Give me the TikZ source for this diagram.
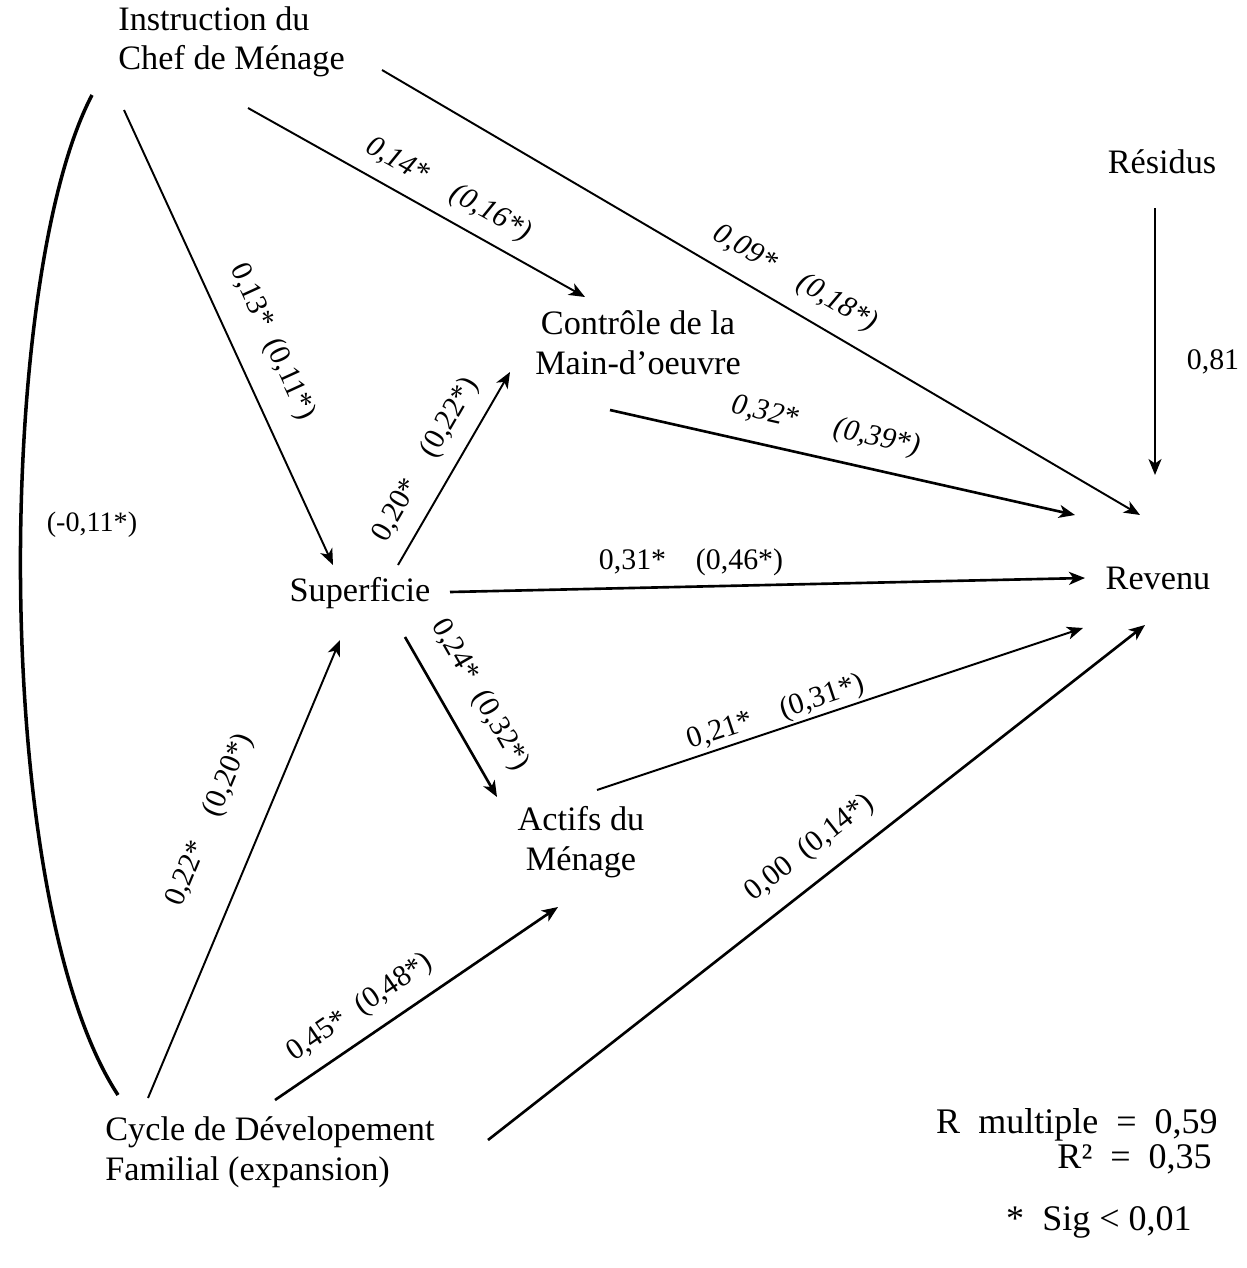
\documentclass[tikz,border=0pt]{standalone}
\usepackage{fontspec}
\setmainfont{Liberation Serif}
\usetikzlibrary{arrows.meta}
\begin{document}
\begin{tikzpicture}[x=0.02cm,y=-0.02cm,
  var/.style={font=\fontsize{19.5}{22.5}\selectfont, inner sep=0pt, align=center},
  coef/.style={font=\fontsize{17}{20}\selectfont, inner sep=0pt},
  icoef/.style={font=\fontsize{17}{20}\selectfont\itshape, inner sep=0pt},
  stat/.style={font=\fontsize{20.5}{22}\selectfont, anchor=east, inner sep=0pt},
  arr/.style={line width=1.1pt, -{Stealth[length=3.2mm,width=2.6mm,inset=0.9mm]}},
  tarr/.style={arr, line width=1.5pt},
]
\useasboundingbox (0,0) rectangle (1247,1268);

% variables
\node[var, align=left, anchor=west] (instr) at (118,42) {Instruction du\\Chef de Ménage};
\node[var] (resid) at (1162,162) {Résidus};
\node[var] (contr) at (638,343) {Contrôle de la\\Main-d’oeuvre};
\node[var] (sup) at (360,593) {Superficie};
\node[var] (rev) at (1158,578) {Revenu};
\node[var] (act) at (581,842) {Actifs du\\Ménage};
\node[var, align=left, anchor=west] (cyc) at (105,1152) {Cycle de Dévelopement\\Familial (expansion)};

% connectors
\draw[arr] ([shift={(264,28)}]instr.west) -- ([shift={(-18,-63)}]rev.center);
\draw[arr] ([shift={(130,66)}]instr.west) -- ([shift={(-53,-46)}]contr.center);
\draw[arr] ([shift={(6,68)}]instr.west) -- ([shift={(-27,-28)}]sup.center);
\draw[line width=2pt] ([shift={(-26,53)}]instr.west) .. controls (-5,280) and (-10,900) .. ([shift={(13,-57)}]cyc.west);
\draw[arr] ([shift={(-7,46)}]resid.center) -- ([shift={(-3,-103)}]rev.center);
\draw[arr] ([shift={(38,-28)}]sup.center) -- ([shift={(-128,29)}]contr.center);
\draw[tarr] ([shift={(-28,67)}]contr.center) -- ([shift={(-83,-63)}]rev.center);
\draw[tarr] ([shift={(90,-1)}]sup.center) -- ([shift={(-73,0)}]rev.center);
\draw[tarr] ([shift={(45,44)}]sup.center) -- ([shift={(-84,-45)}]act.center);
\draw[arr] ([shift={(16,-52)}]act.center) -- ([shift={(-75,50)}]rev.center);
\draw[arr] ([shift={(43,-54)}]cyc.west) -- ([shift={(-20,47)}]sup.center);
\draw[tarr] ([shift={(170,-52)}]cyc.west) -- ([shift={(-23,65)}]act.center);
\draw[tarr] ([shift={(383,-12)}]cyc.west) -- ([shift={(-13,47)}]rev.center);

% coefficients
\node[icoef, rotate=-30.4] (c1) at (795,279) {0,09*\quad (0,18*)};
\node[icoef, rotate=-29.3] (c2) at (448,190) {0,14*\quad (0,16*)};
\node[coef, rotate=-65.3] (c3) at (272,342) {0,13*\enspace (0,11*)};
\node[coef, rotate=59.9] (c4) at (426,460) {0,20*\quad (0,22*)};
\node[icoef, rotate=-12.7] (c5) at (826,427) {0,32*\quad\ (0,39*)};
\node[coef] (c6) at (691,562) {0,31*\quad (0,46*)};
\node[coef, rotate=-60.1] (c7) at (480,695) {0,24*\enspace (0,32*)};
\node[coef, rotate=18.4] (c8) at (776,713) {0,21*\quad (0,31*)};
\node[coef, rotate=67.3] (c9) at (210,820) {0,22*\quad (0,20*)};
\node[coef, rotate=34.3] (c10) at (360,1008) {0,45*\enspace (0,48*)};
\node[coef, rotate=38.1] (c11) at (810,848) {0,00\enspace (0,14*)};
\node[coef] (c12) at (1213,362) {0,81};
\node[coef, font=\fontsize{16}{18}\selectfont] (c13) at (92,525) {(-0,11*)};

% statistics
\node[stat] (stats1) at (1218,1125) {R\enspace multiple\enspace =\enspace 0,59};
\node[stat] (stats2) at (1212,1159) {R²\enspace =\enspace 0,35};
\node[stat] (sig) at (1192,1222) {*\enspace Sig < 0,01};
\end{tikzpicture}
\end{document}
